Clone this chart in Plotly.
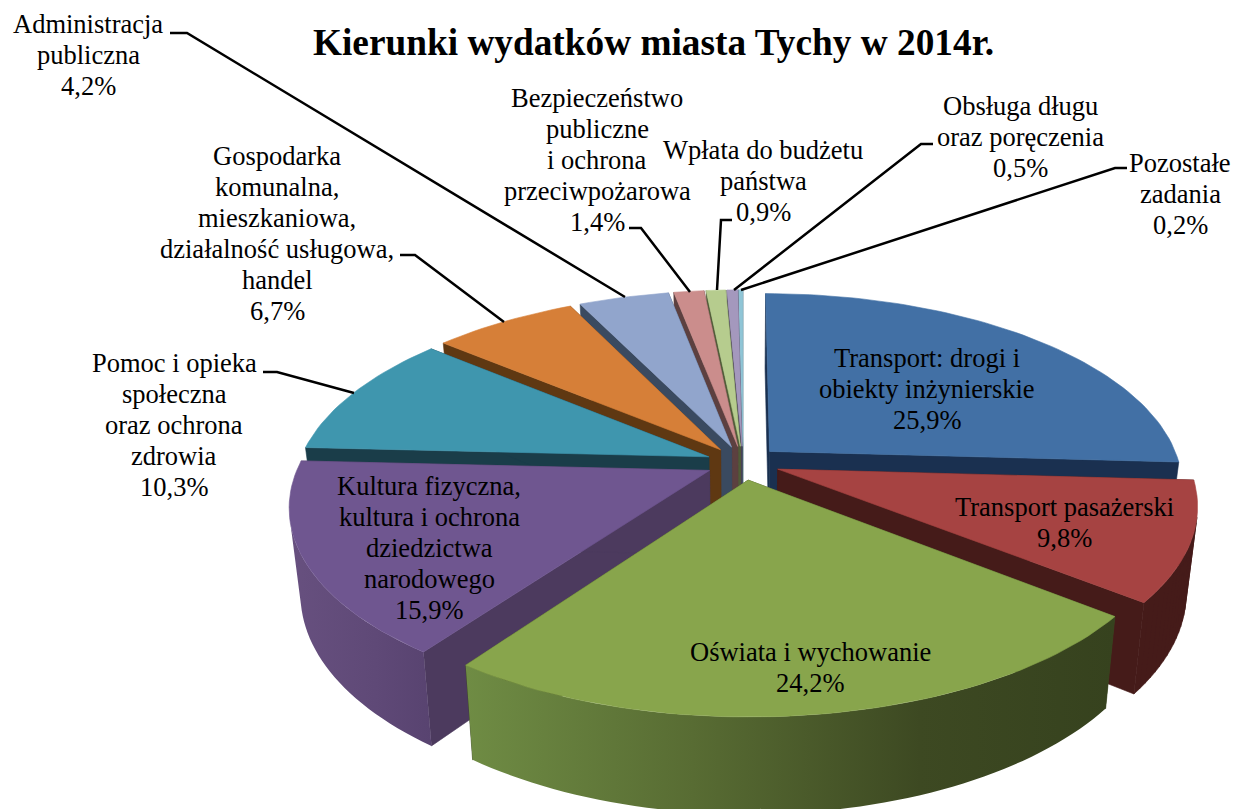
import numpy as np
import plotly.graph_objects as go

# ---- data ----
categories = ["Transport: drogi i<br>obiekty inżynierskie", "Transport pasażerski",
              "Oświata i wychowanie",
              "Kultura fizyczna,<br>kultura i ochrona<br>dziedzictwa<br>narodowego",
              "Pomoc i opieka<br>społeczna<br>oraz ochrona<br>zdrowia",
              "Gospodarka<br>komunalna,<br>mieszkaniowa,<br>działalność usługowa,<br>handel",
              "Administracja<br>publiczna",
              "Bezpieczeństwo<br>publiczne<br>i ochrona<br>przeciwpożarowa",
              "Wpłata do budżetu<br>państwa",
              "Obsługa długu<br>oraz poręczenia",
              "Pozostałe<br>zadania"]
values = [25.9, 9.8, 24.2, 15.9, 10.3, 6.7, 4.2, 1.4, 0.9, 0.5, 0.2]
value_labels = ["25,9%", "9,8%", "24,2%", "15,9%", "10,3%", "6,7%", "4,2%", "1,4%", "0,9%", "0,5%", "0,2%"]
title_text = "Kierunki wydatków miasta Tychy w 2014r."

# ---- styles ----
top_colors = ["#4270a5", "#a64342", "#88a54c", "#6f5690", "#3f96ae", "#d67f38",
              "#91a5cc", "#cb8d8c", "#b6cc8e", "#a498bd", "#8fc5d6"]
wall_colors = ["#1a3050", "#451b19", "#3a4720", "#4c3a5e", "#1a3d49", "#5f3812",
               "#3a4a60", "#5c4040", "#505c38", "#4a4258", "#3f6470"]
outer_grad = {2: [[0, "#6f8c44"], [0.35, "#586c33"], [0.7, "#3d4922"], [1, "#36421e"]],
              3: [[0, "#67507f"], [0.6, "#5f4977"], [1, "#584370"]]}
label_pos = [(927, 389), (1064, 522), (810, 667), (429, 548), (174, 425), (277, 233),
             (88, 55), (597, 160), (763, 181), (1020, 137), (1180, 194)]
leaders = ["M170,33 L187,33 L625,297", "M400,255 L415,255 L504,322", "M263,372 L277,372 L354,393",
           "M629,228 L641,228 L690,292", "M732,220 L721,220 L717,290",
           "M933,144 L921,144 L734,290", "M1127,168 L1115,168 L741,290"]
LINE_PITCH = 31

# ---- projection of the tilted, exploded disk ----
CX, CY, RX, RY, PERSP, DEPTH, SHRINK, EXPLODE = 743, 463, 410, 189, 0.174, 84, 0.975, 0.09


def proj(u, v, low=False):
    s = 1 / (1 - PERSP * v)
    f = SHRINK if low else 1.0
    return CX + RX * u * s * f, CY + RY * v * s * f + (DEPTH * s if low else 0)


fig = go.Figure()


def poly(polys, color, grad=None):
    xs, ys = [], []
    for pts in polys:
        xs += [p[0] for p in pts] + [pts[0][0], None]
        ys += [p[1] for p in pts] + [pts[0][1], None]
    kw = dict(fillgradient=dict(type="horizontal", colorscale=grad)) if grad else dict(fillcolor=color)
    fig.add_trace(go.Scatter(x=xs, y=ys, mode="lines", fill="toself",
                             line=dict(width=0.6 if not grad else 0, color=color),
                             hoverinfo="skip", showlegend=False, **kw))


def area(q):
    return sum(q[k][0] * q[(k + 1) % 4][1] - q[(k + 1) % 4][0] * q[k][1] for k in range(4))


total = sum(values)
edges = np.concatenate([[0], np.cumsum(values)]) / total * 2 * np.pi
order = [10, 9, 8, 7, 6, 5, 4, 0, 3, 1, 2]
for i in order:
    t0, t1 = edges[i], edges[i + 1]
    mid = (t0 + t1) / 2
    ou, ov = EXPLODE * np.sin(mid), -EXPLODE * np.cos(mid)
    ts = np.linspace(t0, t1, max(6, int((t1 - t0) * 40)))
    arc = [(ou + np.sin(t), ov - np.cos(t)) for t in ts]
    apex = (ou, ov)
    top = [proj(*a) for a in arc]
    low = [proj(*a, low=True) for a in arc]
    # radial walls
    for end in (arc[0], arc[-1]):
        poly([[proj(*apex), proj(*end), proj(*end, low=True), proj(*apex, low=True)]], wall_colors[i])
    # outer wall: only the camera-facing strips, so the silhouette stays convex
    quads = [[top[k], top[k + 1], low[k + 1], low[k]] for k in range(len(top) - 1)]
    quads = [q for q in quads if area(q) < 0]
    if quads:
        poly(quads, wall_colors[i], outer_grad.get(i))
    # top face
    poly([[proj(*apex)] + top], top_colors[i])

FONT = "Liberation Serif, Times New Roman, serif"
annotations = [dict(x=653, y=42, text=f"<b>{title_text}</b>", showarrow=False,
                    font=dict(family=FONT, size=37.3, color="#000000"))]
for (x, y), c, v in zip(label_pos, categories, value_labels):
    lines = c.split("<br>") + [v]
    for j, line in enumerate(lines):
        annotations.append(dict(x=x, y=y + (j - (len(lines) - 1) / 2) * LINE_PITCH, text=line,
                                showarrow=False, xanchor="center", yanchor="middle",
                                font=dict(family=FONT, size=26.5, color="#000000")))

fig.update_layout(
    width=1233, height=809, margin=dict(l=0, r=0, t=0, b=0),
    paper_bgcolor="white", plot_bgcolor="white", showlegend=False,
    xaxis=dict(range=[0, 1233], visible=False, fixedrange=True),
    yaxis=dict(range=[809, 0], visible=False, fixedrange=True),
    annotations=annotations,
    shapes=[dict(type="path", path=p, line=dict(color="#000000", width=2.5), xref="x", yref="y")
            for p in leaders],
)
fig.write_html("out.html", config={"displayModeBar": False},
               post_script="document.body.style.margin='0';")
